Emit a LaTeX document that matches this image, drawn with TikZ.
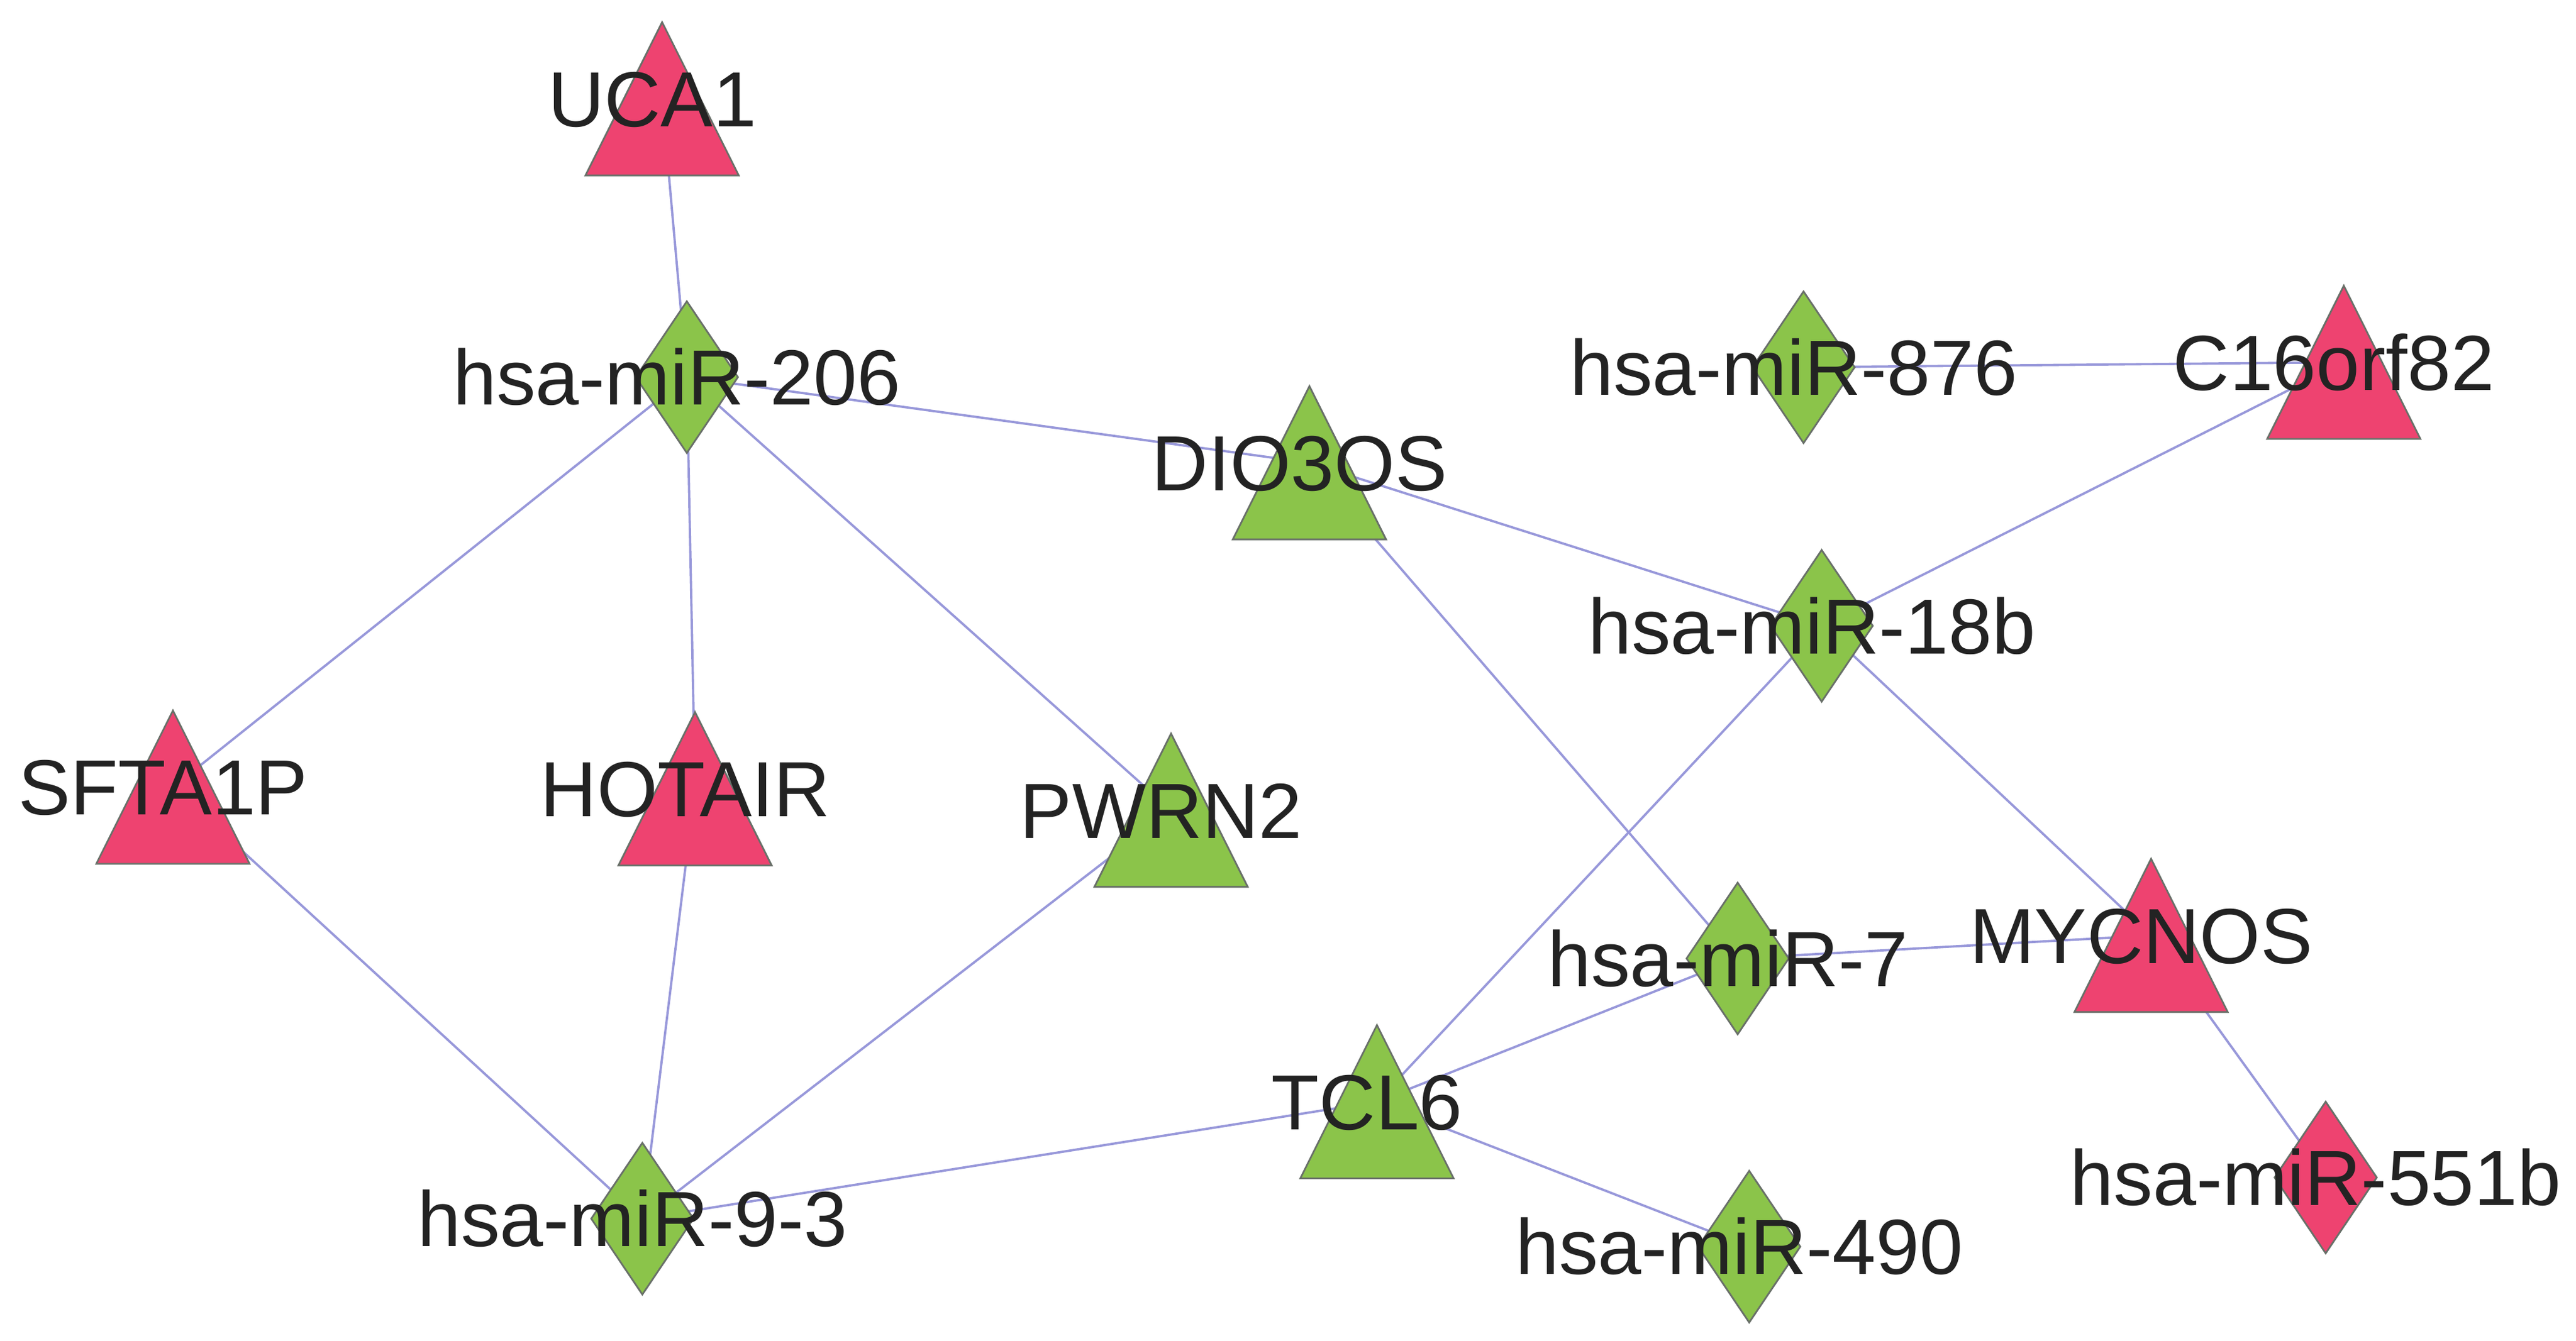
\documentclass[tikz,border=0pt]{standalone}
\usepackage{fontspec}
\setmainfont{Liberation Sans}
\usepackage{tikz}
\usetikzlibrary{shapes.geometric, backgrounds}
\definecolor{upred}{RGB}{238,67,112}
\definecolor{downgreen}{RGB}{139,196,74}
\definecolor{rim}{RGB}{105,112,105}
\definecolor{linkblue}{RGB}{152,152,218}
\definecolor{ink}{RGB}{35,35,35}
\tikzset{
    x=0.01cm, y=-0.01cm, % one unit per pixel of the layout, y runs down
    mir/.style={diamond, draw=rim, line width=0.3pt, inner sep=0pt, outer sep=0pt,
        minimum width=0.62cm, minimum height=0.92cm}, % miRNA nodes
    lnc/.style={isosceles triangle, shape border rotate=90, isosceles triangle stretches,
        draw=rim, line width=0.3pt, inner sep=0pt, outer sep=0pt,
        minimum width=0.93cm, minimum height=0.93cm, anchor=south, yshift=-0.465cm}, % lncRNA nodes
    mirgreen/.style={mir, fill=downgreen},
    mirred/.style={mir, fill=upred},
    lncgreen/.style={lnc, fill=downgreen},
    lncred/.style={lnc, fill=upred},
    tag/.style={font=\fontsize{13.5pt}{16pt}\selectfont, text=ink, inner sep=0pt,
        text height=9.6pt, text depth=0pt, xshift=-0.06cm}, % node names
    link/.style={draw=linkblue, line width=0.4pt}, % interactions
}
\begin{document}
\begin{tikzpicture}
\useasboundingbox (0,0) rectangle (1564,814);
% nodes and their names
\foreach \n/\x/\y/\s/\t in {
    uca1/402/60/lncred/UCA1,
    mir206/417/229/mirgreen/hsa-miR-206,
    dio3os/795/281/lncgreen/DIO3OS,
    mir876/1095/223/mirgreen/hsa-miR-876,
    c16orf82/1423/220/lncred/C16orf82,
    mir18b/1106/380/mirgreen/hsa-miR-18b,
    sfta1p/105/478/lncred/SFTA1P,
    hotair/422/479/lncred/HOTAIR,
    pwrn2/711/492/lncgreen/PWRN2,
    mir7/1055/582/mirgreen/hsa-miR-7,
    mycnos/1306/568/lncred/MYCNOS,
    tcl6/836/669/lncgreen/TCL6,
    mir551b/1412/715/mirred/hsa-miR-551b,
    mir93/390/740/mirgreen/hsa-miR-9-3,
    mir490/1062/757/mirgreen/hsa-miR-490}
{
    \coordinate (\n) at (\x,\y);
    \node[\s] (\n-shape) at (\n) {};
    \node[tag] (\n-tag) at (\n) {\t};
}
% interactions go behind the nodes
\begin{scope}[on background layer]
\foreach \a/\b in {uca1/mir206, mir206/dio3os, mir206/sfta1p, mir206/hotair,
    mir206/pwrn2, dio3os/mir18b, dio3os/mir7, mir876/c16orf82, c16orf82/mir18b,
    mir18b/tcl6, mir18b/mycnos, sfta1p/mir93, hotair/mir93, pwrn2/mir93,
    mir93/tcl6, tcl6/mir7, mir7/mycnos, tcl6/mir490, mycnos/mir551b}
    \draw[link] (\a) -- (\b);
\end{scope}
\end{tikzpicture}
\end{document}
